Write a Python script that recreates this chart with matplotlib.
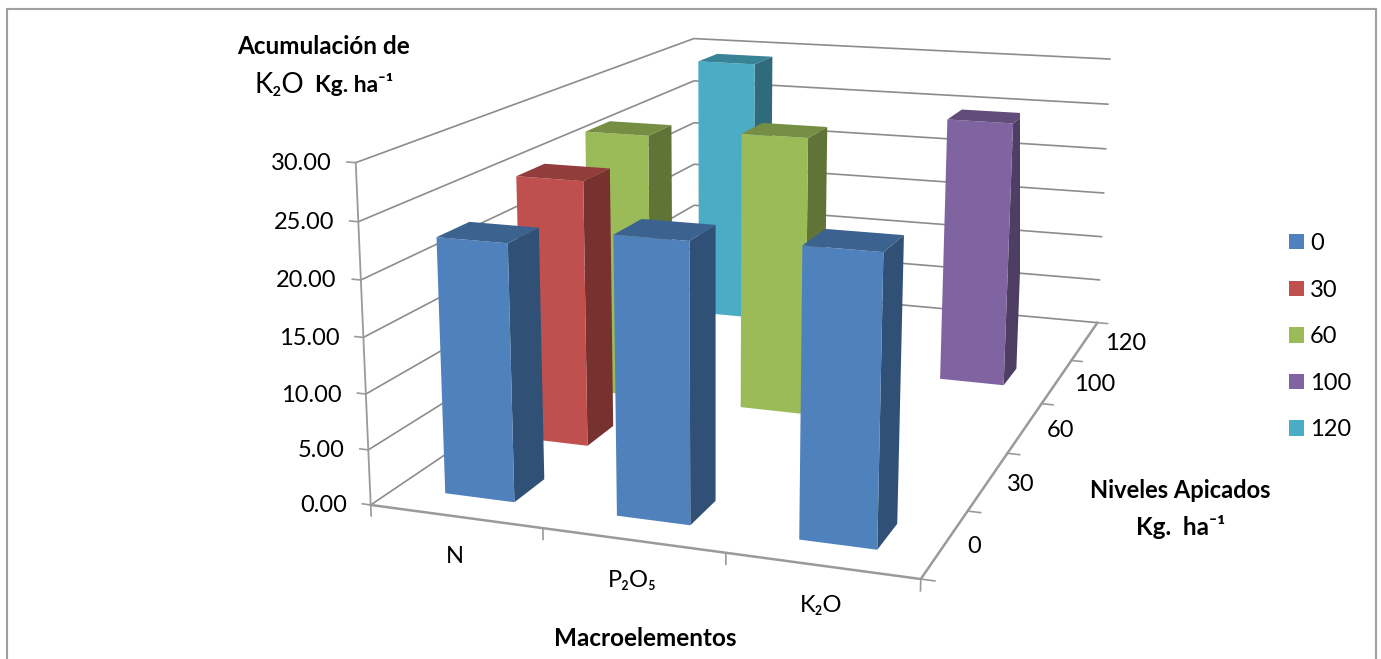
import numpy as np
import matplotlib
matplotlib.use("Agg")
import matplotlib.pyplot as plt
from matplotlib.colors import to_rgb
from matplotlib.patches import Patch, Rectangle

W, H = 1381, 659
plt.rcParams["font.family"] = ["Lato", "DejaVu Sans"]

# ── Data ─────────────────────────────────────────────────────
macro_labels = ["N", "P₂O₅", "K₂O"]
level_labels = ["0", "30", "60", "100", "120"]
level_colors = ["#4F81BD", "#C0504D", "#9BBB59", "#8064A2", "#4BACC6"]
z_ticks = [0, 5, 10, 15, 20, 25, 30]

# one entry per bar: macro index, level index, value
bar_macro = [0, 0, 0, 0, 1, 1, 2, 2]
bar_level = [0, 1, 2, 4, 0, 2, 0, 3]
bar_value = [23.0, 25.2, 26.6, 29.1, 24.5, 27.4, 24.9, 27.1]

BAR_W = 0.41
BAR_D = 0.39
GRID = "#8C8C8C"
AXIS = "#9A9A9A"

# ── Camera: where the box corners and ticks land, in pixels ──
calib = np.array([
    [0, 0, 0, 371, 505], [3, 0, 0, 920, 578], [0, 0, 30, 355, 163], [0, 5, 30, 694, 38],
    [3, 5, 30, 1110, 59], [3, 5, 25, 1108, 104], [3, 5, 20, 1106, 149], [3, 5, 15, 1103, 193],
    [3, 5, 10, 1101, 237], [3, 5, 5, 1099, 280], [3, 5, 0, 1097, 323],
    [3, 1, 0, 968, 511], [3, 2, 0, 1008, 453], [3, 3, 0, 1043, 403], [3, 4, 0, 1072, 361],
    [1, 0, 0, 542, 529], [2, 0, 0, 725, 553],
    [0, 0, 5, 369, 450], [0, 0, 10, 366, 394], [0, 0, 15, 363, 337], [0, 0, 20, 361, 280], [0, 0, 25, 359, 222],
    [0, 5, 25, 694, 82], [0, 5, 20, 694, 122], [0, 5, 15, 694, 164], [0, 5, 10, 694, 205],
], float)


def fit_camera(rows):
    """Direct linear transform from data coordinates to pixels."""
    A = []
    for x, y, z, px, py in rows:
        X = [x / 3, y / 5, z / 30, 1]
        px, py = px / 1000, py / 1000
        A.append(X + [0, 0, 0, 0] + [-px * c for c in X])
        A.append([0, 0, 0, 0] + X + [-py * c for c in X])
    P = np.linalg.svd(np.array(A))[2][-1].reshape(3, 4)
    P = P @ np.diag([1 / 3, 1 / 5, 1 / 30, 1])
    P = np.diag([1000, 1000, 1]) @ P
    return P / P[2, 3]


P = fit_camera(calib)


def to_px(x, y, z):
    hom = P @ np.array([x, y, z, 1.0])
    return hom[0] / hom[2], hom[1] / hom[2]


# pixels -> the square view box that Axes3D keeps inside the figure
k = 0.185 / H
x0 = (W - H) / 2
A = np.array([[k, 0, -0.095 - x0 * k], [0, -k, -0.095 + H * k], [0, 0, 1]])
P3 = A @ P
M = np.array([P3[0], P3[1], [0, 1e-3, 0, -1], P3[2]])

fig = plt.figure(figsize=(W / 100, H / 100), dpi=100)
fig.patches.append(Rectangle((7 / W, -0.1), 1368.5 / W, 1.1 - 9 / H, transform=fig.transFigure,
                             fill=False, edgecolor="#A0A0A0", linewidth=1.5))
ax = fig.add_axes([0, 0, 1, 1], projection="3d", computed_zorder=False)
ax.set_axis_off()
ax.patch.set_visible(False)
ax.set_xlim(0, 3)
ax.set_ylim(0, 5)
ax.set_zlim(0, 30)
ax.get_proj = lambda: M


def line(xs, ys, zs, color=AXIS, lw=1.2):
    ax.plot(xs, ys, zs, color=color, lw=lw, zorder=1, clip_on=False)


def label(px, py, s, ha="center", **kw):
    fig.text(px / W, 1 - py / H, s, ha=ha, va="center", **kw)


# walls
for z in z_ticks:
    line([0, 0, 3], [0, 5, 5], [z, z, z], GRID, 1.2)
line([0, 0], [0, 0], [0, 30], AXIS, 1.3)
line([0, 3, 3], [0, 0, 5], [0, 0, 0], AXIS, 1.8)

# ticks and their labels
for z in z_ticks:
    line([-0.05, 0], [0, 0], [z, z])
    px, py = to_px(0, 0, z)
    label(px - 24, py + 1, f"{z:.2f}", ha="right", fontsize=17)
for i in range(4):
    line([i, i], [0, 0], [0, -1])
for i, text in enumerate(macro_labels):
    px, py = to_px(i + 0.5, 0, 0)
    label(px - 1, py + 40, text, fontsize=17)
for j in range(6):
    line([3, 3.07], [j, j], [0, 0])
for j, text in enumerate(level_labels):
    px, py = to_px(3, j + 0.5, 0)
    label(px + 29 + 3 * j, py + 3, text, fontsize=17)


def shade(color, f):
    return tuple(c * f for c in to_rgb(color))


# bars from the back row forward, one box at a time
order = sorted(range(len(bar_value)), key=lambda n: (-bar_level[n], bar_macro[n]))
for rank, n in enumerate(order):
    base = level_colors[bar_level[n]]
    hidden = (0, 0, 0, 0)
    # faces in bar3d order: bottom, top, front, back, left, right
    faces = [hidden, shade(base, 0.76) + (1,), to_rgb(base) + (1,), hidden, hidden, shade(base, 0.62) + (1,)]
    ax.bar3d(bar_macro[n] + 0.495 - BAR_W / 2, bar_level[n] + 0.495 - BAR_D / 2, 0,
             BAR_W, BAR_D, bar_value[n], color=faces, shade=False,
             edgecolor="none", zorder=5 + rank)

# legend
handles = [Patch(facecolor=c, label=l) for c, l in zip(level_colors, level_labels)]
fig.legend(handles=handles, loc="upper left", bbox_to_anchor=(1289 / W, 1 - 233 / H), frameon=False,
           fontsize=17, handlelength=0.635, handleheight=0.635, handletextpad=0.25,
           labelspacing=1.085, borderpad=0, borderaxespad=0)

label(324, 47, "Acumulación de", fontsize=17.5, fontweight="bold")
label(279, 85, "K₂O", fontsize=20)
label(354, 85, "Kg. ha⁻¹", fontsize=16.5, fontweight="bold")
label(645, 638, "Macroelementos", fontsize=17.5, fontweight="bold")
label(1180, 491, "Niveles Apicados", fontsize=17, fontweight="bold")
label(1181, 527, "Kg.  ha⁻¹", fontsize=17.5, fontweight="bold")

fig.savefig("out.png", dpi=100)
